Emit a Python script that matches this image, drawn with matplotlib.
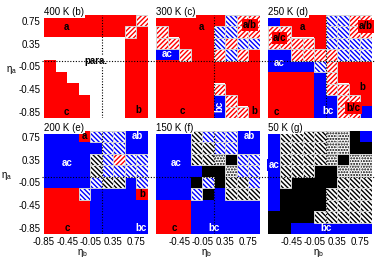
import numpy as np
import matplotlib.pyplot as plt
from matplotlib.patches import Rectangle
from matplotlib.lines import Line2D
from matplotlib.colors import to_rgb
import matplotlib.transforms as mtransforms

plt.rcParams['font.family'] = ['Liberation Sans', 'DejaVu Sans']
plt.rcParams['hatch.linewidth'] = 1.0

# grid values of eta_a / eta_b
eta = [-0.85, -0.65, -0.45, -0.25, -0.05, 0.15, 0.35, 0.55, 0.75]
tick_vals = [-0.85, -0.45, -0.05, 0.35, 0.75]
titles = ['400 K (b)', '300 K (c)', '250 K (d)', '200 K (e)', '150 K (f)', '50 K (g)']

# phase maps: rows go from eta_a = 0.75 (top) to -0.85, columns eta_b -0.85 -> 0.75
# R/B/K solid red/blue/black, r/b/k hatched, d dotted, W empty
map_400 = ["RRRRRRRRr",
           "RRRRRRRrR",
           "WWWWWWWRR",
           "WWWWWWWRR",
           "RWWWWWWRR",
           "RRWWWWWRR",
           "RRRWWWWRR",
           "RRRRWWWRR",
           "RRRRWWWRR"]
map_300 = ["RRRRRRbrr",
           "rRRRRbbrr",
           "rrRRRbrbb",
           "BBrRRrbrR",
           "RRRRRRRRR",
           "RRRRRRRRR",
           "RRRRRrRRR",
           "RRRRRBrRR",
           "RRRRRBrrR"]
map_250 = ["BRRRRbbrr",
           "rrRRRbbrr",
           "rrrrRbbbb",
           "BBrrrrbbb",
           "BBBBbrRRR",
           "RRRRBrRRR",
           "RRRRBrrRR",
           "RRRRBBrrR",
           "RRRRBBrrB"]
map_200 = ["BBBRbbbBB",
           "BBBBBbbBB",
           "BBBBkbrbb",
           "BBBBkbbbb",
           "BBBBbkkBb",
           "RRRbBBBBR",
           "RRRRBBBBB",
           "RRRRBBBBB",
           "RRRRBBBBB"]
map_150 = ["BBBkbbbBB",
           "BBBkkbbBB",
           "BBBkkdKbb",
           "BBBBKKdbb",
           "BBBKbKkkb",
           "BBBbKBkkk",
           "RRRBBBBBB",
           "RRRBBBBBB",
           "RRRBBBBBB"]
map_50 = ["BkkkkddKB",
          "BkkkkddKK",
          "BkkkkdKdd",
          "BkkkKKddd",
          "BkKKKKkkk",
          "BKKKKkkkk",
          "BKKKKkkkk",
          "KKKKkkkkk",
          "KKBBBBBBB"]
maps = [map_400, map_300, map_250, map_200, map_150, map_50]

solid = {'R': 'red', 'B': 'blue', 'K': 'black', 'W': 'white'}
hatched = {'r': ('red', '///////'), 'b': ('blue', '\\\\\\\\\\\\\\'),
           'k': ('black', '\\\\\\\\\\\\\\'), 'd': ('black', '......')}

# phase labels: text, column, row (cell units from top-left), colour, background, rotation
labels = [
    [('a', 1.9, 1.08, 'k', None, 0), ('c', 1.9, 8.45, 'k', None, 0),
     ('b', 8.2, 8.3, 'k', None, 0), ('para.', 4.5, 4.0, 'k', 'white', 0)],
    [('a', 3.9, 1.08, 'k', None, 0), ('a/b', 8.1, 0.9, 'k', 'red', 0),
     ('ac', 1.0, 3.45, 'white', None, 0), ('c', 2.3, 8.4, 'k', None, 0),
     ('bc', 5.5, 8.0, 'white', None, 90), ('b', 8.55, 8.4, 'k', None, 0)],
    [('a', 3.0, 1.08, 'k', None, 0), ('a/b', 8.5, 1.0, 'k', 'red', 0),
     ('a/c', 1.0, 2.0, 'k', 'red', 0), ('ac', 1.0, 4.2, 'white', None, 0),
     ('c', 0.7, 8.45, 'k', None, 0), ('bc', 5.2, 8.4, 'white', None, 0),
     ('b/c', 7.4, 8.1, 'k', 'red', 0), ('b', 8.15, 6.3, 'k', None, 0)],
    [('a', 3.5, 0.45, 'k', None, 0), ('ab', 8.1, 0.45, 'white', None, 0),
     ('ac', 2.0, 2.8, 'white', None, 0), ('c', 2.0, 8.5, 'k', None, 0),
     ('b', 8.5, 5.5, 'k', None, 0), ('bc', 8.4, 8.5, 'white', None, 0)],
    [('ab', 8.1, 0.45, 'white', None, 0), ('ac', 1.7, 2.8, 'white', None, 0),
     ('c', 1.6, 8.5, 'k', None, 0), ('bc', 5.05, 8.5, 'white', None, 0)],
    [('ac', 0.5, 3.0, 'white', 'blue', 0), ('bc', 5.05, 8.5, 'white', None, 0)],
]

W, H = 377, 262
fig = plt.figure(figsize=(W / 100, H / 100), dpi=100)

lefts = [44, 156, 268]
tops = [15, 131]
pw, ph = 104, 103
step = 0.2
x_lo, x_hi = eta[0], eta[-1] + step
y_lo, y_hi = eta[0] - step / 2, eta[-1] + step / 2


def draw_panel(ax, grid):
    n = len(eta)
    img = np.ones((n, n, 3))
    for i, row in enumerate(grid):
        for j, c in enumerate(row):
            if c in solid:
                img[i, j] = to_rgb(solid[c])
    ax.imshow(img, extent=(x_lo, x_hi, y_lo, y_hi), origin='upper',
              aspect='auto', interpolation='nearest', zorder=1)
    eta_a = eta[::-1]
    for i, row in enumerate(grid):
        for j, c in enumerate(row):
            if c in hatched:
                col, h = hatched[c]
                x0, y0 = eta[j], eta_a[i] - step / 2
                ax.add_patch(Rectangle((x0, y0), step, step, facecolor='white',
                                       edgecolor=col, hatch=h, lw=0, zorder=2))
                ax.add_patch(Rectangle((x0, y0), step, step, fill=False,
                                       edgecolor='#d4d4d4', lw=0.7, zorder=3))


axes = []
for k in range(6):
    r, c = divmod(k, 3)
    ax = fig.add_axes([lefts[c] / W, (H - tops[r] - ph) / H, pw / W, ph / H])
    draw_panel(ax, maps[k])
    ax.set_xlim(x_lo, x_hi)
    ax.set_ylim(y_lo, y_hi)
    for s in ax.spines.values():
        s.set_visible(False)
    ax.tick_params(length=0, labelsize=7, pad=2.5)
    ax.set_yticks(tick_vals)
    ax.set_xticks(tick_vals)
    if c == 0:
        ax.set_yticklabels([f'{v:.2f}' for v in tick_vals])
        ax.set_ylabel(r'$\mathregular{\eta_a}$', rotation=0, fontsize=7,
                      va='center', ha='center')
        ax.yaxis.set_label_coords(-0.31 if r == 0 else -0.36, 0.47 if r == 0 else 0.56)
    else:
        ax.set_yticklabels([])
    if r == 1:
        if c == 0:
            ax.set_xticklabels([f'{v:.2f}' for v in tick_vals])
        else:
            ax.set_xticklabels([''] + [f'{v:.2f}' for v in tick_vals[1:]])
        ax.set_xlabel(r'$\mathregular{\eta_b}$', fontsize=7, va='center')
        ax.xaxis.set_label_coords(0.375 if c == 0 else 0.49, -0.185)
    else:
        ax.set_xticklabels([])

    # dotted guide
    ax.axvline(eta[5], color='k', ls=(0, (1, 1.5)), lw=0.8, zorder=6)

    ax.text(0.0, 1.0, titles[k], transform=ax.transAxes, ha='left', va='baseline',
            fontsize=7, zorder=10,
            bbox=dict(facecolor='white', edgecolor='none', pad=0.6))

    for txt, cx, cy, tc, bg, rot in labels[k]:
        xd = x_lo + step * cx
        yd = y_hi - step * cy
        kw = {}
        if bg is not None:
            kw['bbox'] = dict(facecolor=bg, edgecolor='none', pad=0.8)
        ax.text(xd, yd, txt, color=tc, fontsize=7, fontweight='bold',
                ha='center', va='center', rotation=rot, zorder=12, **kw)
    axes.append(ax)

# horizontal dotted guides across each row
for r in range(2):
    ax = axes[3 * r]
    tr = mtransforms.blended_transform_factory(fig.transFigure, ax.transData)
    fig.add_artist(Line2D([42 / W, 374 / W], [0.05, 0.05], transform=tr,
                          color='k', ls=(0, (1, 1.5)), lw=0.8, zorder=5))

fig.savefig('out.png', dpi=100)
